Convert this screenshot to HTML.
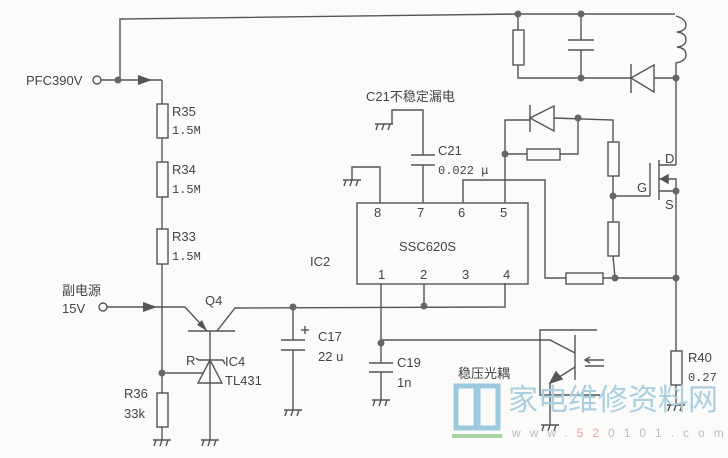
<!DOCTYPE html>
<html><head><meta charset="utf-8"><style>
html,body{margin:0;padding:0;background:#fbfbf9;}
svg{display:block}
text{font-family:"Liberation Sans","Noto Sans CJK SC",sans-serif;fill:#444;font-size:13px}
.m{font-family:"Liberation Mono","Noto Sans CJK SC",monospace;font-size:12px}
</style></head><body>
<svg width="728" height="458" viewBox="0 0 728 458" xmlns="http://www.w3.org/2000/svg">
<g stroke="#555" stroke-width="1.4" fill="none">
<!-- top wire -->
<polyline points="120,80 120,19 518,14 675,14"/>
<path d="M676,16 q10,3 10,9 q0,6 -9,7 q9,1 9,8 q0,6 -9,7 q9,1 9,8 q0,6 -10,8 L676,78"/>
<!-- PFC input -->
<line x1="101" y1="80" x2="162" y2="80"/>
<line x1="162" y1="80" x2="162" y2="440"/>
<!-- resistors left -->
<rect x="157" y="104" width="11" height="34" fill="#fbfbf9"/>
<rect x="157" y="162" width="11" height="35" fill="#fbfbf9"/>
<rect x="157" y="229" width="11" height="35" fill="#fbfbf9"/>
<rect x="157" y="393" width="11" height="34" fill="#fbfbf9"/>
<!-- 15V -->
<line x1="107" y1="307" x2="185" y2="307"/>
<!-- Q4 -->
<line x1="188" y1="331" x2="235" y2="331"/>
<line x1="185" y1="307" x2="207" y2="331"/>
<polyline points="217,331 235,308 505,307 505,283"/>
<line x1="210" y1="331" x2="210" y2="440"/>
<!-- TL431 -->
<line x1="198" y1="360" x2="223" y2="360"/>
<polyline points="198,360 196,358"/><polyline points="223,360 225,364"/>
<polygon points="210,360 198,383 222,383"/>
<line x1="162" y1="373" x2="203" y2="373"/>
<!-- C17 -->
<line x1="293" y1="307" x2="293" y2="340"/>
<line x1="281" y1="340" x2="305" y2="340"/>
<line x1="281" y1="350" x2="305" y2="350"/>
<line x1="293" y1="350" x2="293" y2="410"/>
<line x1="301" y1="330" x2="309" y2="330"/><line x1="305" y1="326" x2="305" y2="334"/>
<!-- IC box -->
<rect x="357" y="203" width="171" height="81"/>
<polyline points="380,203 380,167 352,167 352,180"/>
<polyline points="423,203 423,165"/>
<line x1="411" y1="155" x2="435" y2="155"/>
<line x1="411" y1="165" x2="435" y2="165"/>
<polyline points="423,155 423,110 392,110 392,124"/>
<polyline points="463,203 463,180 545,180 545,278 566,278"/>
<rect x="566" y="273" width="37" height="11" fill="#fbfbf9"/>
<line x1="603" y1="278" x2="676" y2="278"/>
<polyline points="505,203 505,120 530,120"/>
<line x1="505" y1="154" x2="527" y2="154"/>
<rect x="527" y="149" width="33" height="11" fill="#fbfbf9"/>
<polyline points="560,154 578,154 578,118"/>
<polygon points="530,118 554,106 554,131"/>
<line x1="530" y1="105" x2="530" y2="132"/>
<polyline points="554,118 613,120 613,142"/>
<rect x="608" y="142" width="11" height="34" fill="#fbfbf9"/>
<line x1="613" y1="176" x2="613" y2="222"/>
<rect x="608" y="222" width="11" height="34" fill="#fbfbf9"/>
<line x1="613" y1="256" x2="615" y2="278"/>
<line x1="613" y1="196" x2="650" y2="196"/>
<!-- MOSFET -->
<line x1="650" y1="163" x2="650" y2="196"/>
<line x1="659" y1="160" x2="659" y2="200"/>
<polyline points="659,165 676,165"/>
<polyline points="659,179 676,179 676,191"/>
<polyline points="659,191 676,191"/>
<polygon points="661,179 668,175 668,183" fill="#555"/>
<line x1="676" y1="78" x2="676" y2="165"/>
<line x1="676" y1="191" x2="676" y2="351"/>
<rect x="671" y="351" width="11" height="34" fill="#fbfbf9"/>
<line x1="676" y1="385" x2="676" y2="405"/>
<!-- top right -->
<line x1="518" y1="14" x2="518" y2="30"/>
<rect x="513" y="30" width="11" height="35" fill="#fbfbf9"/>
<polyline points="518,65 518,78 676,78"/>
<line x1="581" y1="14" x2="581" y2="40"/>
<line x1="568" y1="40" x2="594" y2="40"/>
<line x1="568" y1="50" x2="594" y2="50"/>
<line x1="581" y1="50" x2="581" y2="78"/>
<polygon points="631,78 654,65 654,92" fill="#fbfbf9"/>
<line x1="631" y1="64" x2="631" y2="93"/>
<!-- pins bottom -->
<line x1="381" y1="284" x2="381" y2="363"/>
<line x1="369" y1="363" x2="393" y2="363"/>
<line x1="369" y1="372" x2="393" y2="372"/>
<line x1="381" y1="372" x2="381" y2="400"/>
<line x1="424" y1="284" x2="424" y2="307"/>
<!-- opto -->
<polyline points="381,340 550,340 575,353"/>
<polyline points="597,330 540,330 540,395 600,395"/>
<line x1="575" y1="335" x2="575" y2="380"/>
<line x1="575" y1="367" x2="553" y2="381"/>
<polygon points="550,383 556,372 562,379" fill="#555"/>
<line x1="550" y1="383" x2="550" y2="425"/>
<line x1="585" y1="360" x2="604" y2="360"/><line x1="585" y1="366" x2="604" y2="366"/>
<polyline points="590,357 585,360 590,363"/>
</g>
<!-- arrows -->
<g fill="#555">
<polygon points="138,75 152,80 138,85"/>
<polygon points="143,302 157,307 143,312"/>
<polygon points="207,331 197,325 202,320"/>
</g>
<!-- grounds -->
<g stroke="#555" stroke-width="1.4" fill="none">
<g transform="translate(162,440)"><line x1="-9" y1="0" x2="9" y2="0"/><line x1="-6" y1="0" x2="-8" y2="6"/><line x1="0" y1="0" x2="-2" y2="6"/><line x1="6" y1="0" x2="4" y2="6"/></g>
<g transform="translate(210,440)"><line x1="-9" y1="0" x2="9" y2="0"/><line x1="-6" y1="0" x2="-8" y2="6"/><line x1="0" y1="0" x2="-2" y2="6"/><line x1="6" y1="0" x2="4" y2="6"/></g>
<g transform="translate(293,410)"><line x1="-9" y1="0" x2="9" y2="0"/><line x1="-6" y1="0" x2="-8" y2="6"/><line x1="0" y1="0" x2="-2" y2="6"/><line x1="6" y1="0" x2="4" y2="6"/></g>
<g transform="translate(381,400)"><line x1="-9" y1="0" x2="9" y2="0"/><line x1="-6" y1="0" x2="-8" y2="6"/><line x1="0" y1="0" x2="-2" y2="6"/><line x1="6" y1="0" x2="4" y2="6"/></g>
<g transform="translate(352,180)"><line x1="-9" y1="0" x2="9" y2="0"/><line x1="-6" y1="0" x2="-8" y2="6"/><line x1="0" y1="0" x2="-2" y2="6"/><line x1="6" y1="0" x2="4" y2="6"/></g>
<g transform="translate(384,124)"><line x1="-9" y1="0" x2="9" y2="0"/><line x1="-6" y1="0" x2="-8" y2="6"/><line x1="0" y1="0" x2="-2" y2="6"/><line x1="6" y1="0" x2="4" y2="6"/></g>
<g transform="translate(550,425)"><line x1="-9" y1="0" x2="9" y2="0"/><line x1="-6" y1="0" x2="-8" y2="6"/><line x1="0" y1="0" x2="-2" y2="6"/><line x1="6" y1="0" x2="4" y2="6"/></g>
<g transform="translate(676,405)"><line x1="-9" y1="0" x2="9" y2="0"/><line x1="-6" y1="0" x2="-8" y2="6"/><line x1="0" y1="0" x2="-2" y2="6"/><line x1="6" y1="0" x2="4" y2="6"/></g>
</g>
<!-- dots and terminals -->
<g fill="#666">
<circle cx="118" cy="80" r="3.5"/><circle cx="162" cy="373" r="3.5"/><circle cx="293" cy="307" r="3.5"/>
<circle cx="424" cy="306" r="3.5"/><circle cx="381" cy="343" r="3.5"/><circle cx="505" cy="154" r="3.5"/>
<circle cx="578" cy="118" r="3.5"/><circle cx="613" cy="196" r="3.5"/><circle cx="615" cy="278" r="3.5"/>
<circle cx="676" cy="278" r="3.5"/><circle cx="676" cy="191" r="3.5"/><circle cx="676" cy="78" r="3.5"/>
<circle cx="518" cy="14" r="3.5"/><circle cx="581" cy="14" r="3.5"/><circle cx="581" cy="78" r="3.5"/>
</g>
<g fill="none" stroke="#555" stroke-width="1.4"><circle cx="97" cy="80" r="4"/><circle cx="103" cy="307" r="4"/></g>
<!-- labels -->
<text x="26" y="85">PFC390V</text>
<text x="172" y="116">R35</text><text class="m" x="172" y="134">1.5M</text>
<text x="172" y="174">R34</text><text class="m" x="172" y="193">1.5M</text>
<text x="172" y="241">R33</text><text class="m" x="172" y="260">1.5M</text>
<text x="62" y="295">副电源</text><text x="62" y="313">15V</text>
<text x="205" y="305">Q4</text>
<text x="186" y="365">R</text>
<text x="225" y="366">IC4</text><text x="225" y="385">TL431</text>
<text x="124" y="398">R36</text><text x="124" y="418">33k</text>
<text x="318" y="341">C17</text><text x="318" y="361">22 u</text>
<text x="310" y="266">IC2</text>
<text x="366" y="101">C21不稳定漏电</text>
<text x="438" y="155">C21</text><text class="m" x="438" y="174">0.022 μ</text>
<text x="374" y="217">8</text><text x="417" y="217">7</text><text x="458" y="217">6</text><text x="500" y="217">5</text>
<text x="378" y="279">1</text><text x="420" y="279">2</text><text x="462" y="279">3</text><text x="503" y="279">4</text>
<text x="399" y="251">SSC620S</text>
<text x="665" y="163">D</text><text x="637" y="192">G</text><text x="665" y="209">S</text>
<text x="397" y="367">C19</text><text x="397" y="387">1n</text>
<text x="458" y="378">稳压光耦</text>
<text x="688" y="362">R40</text><text class="m" x="688" y="381">0.27</text>
<!-- watermark -->
<g fill="none" stroke="#9cc9de" stroke-width="5"><rect x="456" y="386" width="20" height="42"/><rect x="478" y="386" width="20" height="42"/></g>
<polyline points="452,436 477,436 502,436" fill="none" stroke="#a9d6a0" stroke-width="4"/>
<text x="508" y="410" style="font-size:30px;fill:#a9cfe0">家电维修资料网</text>
<text x="512" y="437" style="font-size:12px;fill:#bbb;letter-spacing:9px">www.<tspan style="fill:#e6a0a0">52</tspan>0101.com</text>
</svg>
</body></html>
